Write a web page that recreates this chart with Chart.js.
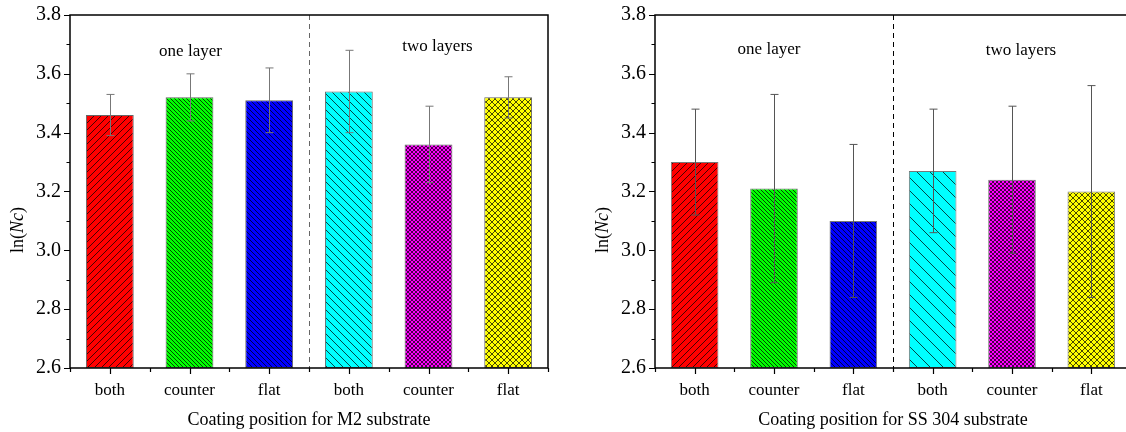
<!DOCTYPE html>
<html>
<head>
<meta charset="utf-8">
<script src="https://cdn.jsdelivr.net/npm/chart.js@4/dist/chart.umd.min.js"></script>
<style>
    html, body { margin: 0; padding: 0; background: #fff; overflow: hidden; width: 1126px; height: 432px; }
    #chart-m2 { position: absolute; left: 0; top: 0; }
    #chart-ss { position: absolute; left: 563px; top: 0; }
</style>
</head>
<body>
<canvas id="chart-m2" width="563" height="432"></canvas>
<canvas id="chart-ss" width="580" height="432"></canvas>
<script>
// data
const categories = ["both", "counter", "flat", "both", "counter", "flat"];
const groupLabels = ["one layer", "two layers"];
const yTicks = [2.6, 2.8, 3.0, 3.2, 3.4, 3.6, 3.8];

const m2Values = [3.46, 3.52, 3.51, 3.54, 3.36, 3.52];
const m2Low = [3.39, 3.44, 3.40, 3.40, 3.23, 3.45];
const m2High = [3.53, 3.60, 3.62, 3.68, 3.49, 3.59];

const ssValues = [3.30, 3.21, 3.10, 3.27, 3.24, 3.20];
const ssLow = [3.12, 2.89, 2.84, 3.06, 2.99, 2.84];
const ssHigh = [3.48, 3.53, 3.36, 3.48, 3.49, 3.56];

const barColors = ["#ff0000", "#00ff00", "#0000ff", "#00ffff", "#ff00ff", "#ffff00"];
const hatchKinds = ["fwd", "back", "back", "back", "cross", "cross"];

const FONT = "'Liberation Serif', 'Times New Roman', serif";
Chart.defaults.font.family = FONT;
Chart.defaults.color = "#000";

// hatch fill for a bar
function hatch(ctx, color, size, kind) {
    const c = document.createElement("canvas");
    c.width = size;
    c.height = size;
    const x = c.getContext("2d");
    x.fillStyle = color;
    x.fillRect(0, 0, size, size);
    x.strokeStyle = "rgba(0,0,0,0.9)";
    x.lineWidth = 0.8;
    x.beginPath();
    if (kind === "fwd" || kind === "cross") {
        x.moveTo(-1, size + 1); x.lineTo(size + 1, -1);
        x.moveTo(-1, 1); x.lineTo(1, -1);
        x.moveTo(size - 1, size + 1); x.lineTo(size + 1, size - 1);
    }
    if (kind === "back" || kind === "cross") {
        x.moveTo(-1, -1); x.lineTo(size + 1, size + 1);
        x.moveTo(size - 1, -1); x.lineTo(size + 1, 1);
        x.moveTo(-1, size - 1); x.lineTo(1, size + 1);
    }
    x.stroke();
    return ctx.createPattern(c, "repeat");
}

function makeChart(id, values, low, high, opts) {
    const canvas = document.getElementById(id);
    const ctx = canvas.getContext("2d");
    const fills = barColors.map((col, i) => hatch(ctx, col, opts.hatchSizes[i], hatchKinds[i]));

    // error bars, frame, ticks, divider, labels
    const extras = {
        id: "extras",
        afterDatasetsDraw(chart) {
            const c = chart.ctx;
            const area = chart.chartArea;
            const xs = chart.scales.x;
            const ys = chart.scales.y;
            const bars = chart.getDatasetMeta(0).data;

            c.save();
            c.strokeStyle = opts.errColor;
            c.lineWidth = 1;
            bars.forEach((bar, i) => {
                const x = Math.round(bar.x) + 0.5;
                const y1 = ys.getPixelForValue(low[i]);
                const y2 = ys.getPixelForValue(high[i]);
                c.beginPath();
                c.moveTo(x, y1); c.lineTo(x, y2);
                c.moveTo(x - 4, y1); c.lineTo(x + 4, y1);
                c.moveTo(x - 4, y2); c.lineTo(x + 4, y2);
                c.stroke();
            });

            // dashed divider between the two groups
            const xd = Math.round((xs.getPixelForValue(2) + xs.getPixelForValue(3)) / 2) + 0.5;
            c.strokeStyle = opts.dashColor;
            c.setLineDash([5, 4]);
            c.beginPath();
            c.moveTo(xd, area.top);
            c.lineTo(xd, area.bottom);
            c.stroke();
            c.setLineDash([]);

            // frame
            c.strokeStyle = "#000";
            c.lineWidth = 1.5;
            c.strokeRect(area.left, area.top, area.right - area.left, area.bottom - area.top);

            // y ticks major + minor
            c.lineWidth = 1.2;
            c.beginPath();
            for (let k = 0; k <= 12; k++) {
                const v = yTicks[0] + k * 0.1;
                const y = Math.round(ys.getPixelForValue(v)) + 0.5;
                const len = k % 2 === 0 ? 6 : 3.5;
                c.moveTo(area.left, y);
                c.lineTo(area.left - len, y);
            }
            // x ticks at centres and boundaries
            const step = (area.right - area.left) / categories.length;
            for (let k = 0; k <= categories.length; k++) {
                const xb = Math.round(area.left + k * step) + 0.5;
                c.moveTo(xb, area.bottom);
                c.lineTo(xb, area.bottom + 4);
                if (k < categories.length) {
                    const xc = Math.round(xs.getPixelForValue(k)) + 0.5;
                    c.moveTo(xc, area.bottom);
                    c.lineTo(xc, area.bottom + 6);
                }
            }
            c.stroke();

            // group labels
            c.fillStyle = "#000";
            c.font = "17px " + FONT;
            c.textAlign = "center";
            c.textBaseline = "middle";
            c.fillText(groupLabels[0], xs.getPixelForValue(1) + opts.oneDx, opts.oneY);
            c.fillText(groupLabels[1], xs.getPixelForValue(4) + opts.twoDx, opts.twoY);

            // x title
            c.font = "18px " + FONT;
            c.fillText(opts.xTitle, (area.left + area.right) / 2, 420);

            // y title ln(Nc) with italic Nc
            c.translate(opts.yTitleX, 230);
            c.rotate(-Math.PI / 2);
            const parts = [["ln(", "18px " + FONT], ["Nc", "italic 18px " + FONT], [")", "18px " + FONT]];
            let total = 0;
            parts.forEach(p => { c.font = p[1]; total += c.measureText(p[0]).width; });
            let px = -total / 2;
            c.textAlign = "left";
            parts.forEach(p => {
                c.font = p[1];
                c.fillText(p[0], px, 0);
                px += c.measureText(p[0]).width;
            });
            c.restore();
        }
    };

    return new Chart(ctx, {
        type: "bar",
        data: {
            labels: categories,
            datasets: [
                {
                    data: values.map(v => [yTicks[0], v]),
                    backgroundColor: fills,
                    borderColor: opts.borderColor,
                    borderWidth: 1,
                    borderSkipped: false,
                    barPercentage: 0.6,
                    categoryPercentage: 1,
                },
            ],
        },
        options: {
            responsive: false,
            animation: false,
            layout: { padding: { top: 15, right: opts.padRight, left: 0, bottom: 0 } },
            plugins: { legend: { display: false }, tooltip: { enabled: false } },
            scales: {
                x: {
                    grid: { display: false },
                    border: { display: false },
                    ticks: { color: "#000", font: { family: FONT, size: 17 }, padding: 4, maxRotation: 0 },
                    afterFit: (s) => { s.height = 64; },
                },
                y: {
                    min: yTicks[0],
                    max: yTicks[yTicks.length - 1],
                    grid: { display: false },
                    border: { display: false },
                    afterBuildTicks: (s) => { s.ticks = yTicks.map(v => ({ value: v })); },
                    ticks: {
                        color: "#000",
                        font: { family: FONT, size: 20 },
                        padding: 1,
                        callback: (v) => Number(v).toFixed(1),
                    },
                    afterFit: (s) => { s.width = opts.yWidth; },
                },
            },
        },
        plugins: [extras],
    });
}

makeChart("chart-m2", m2Values, m2Low, m2High, {
    hatchSizes: [7, 4, 5, 8, 4, 6],
    errColor: "#777",
    dashColor: "#666",
    borderColor: "#666",
    padRight: 15,
    yWidth: 70,
    yTitleX: 18,
    oneDx: 1, oneY: 52,
    twoDx: 9, twoY: 47,
    xTitle: "Coating position for M2 substrate",
});

makeChart("chart-ss", ssValues, ssLow, ssHigh, {
    hatchSizes: [7, 4, 5, 13, 4, 6],
    errColor: "#555",
    dashColor: "#000",
    borderColor: "#777",
    padRight: 12,
    yWidth: 92,
    yTitleX: 40,
    oneDx: -5, oneY: 50,
    twoDx: 9, twoY: 51,
    xTitle: "Coating position for SS 304 substrate",
});
</script>
</body>
</html>
